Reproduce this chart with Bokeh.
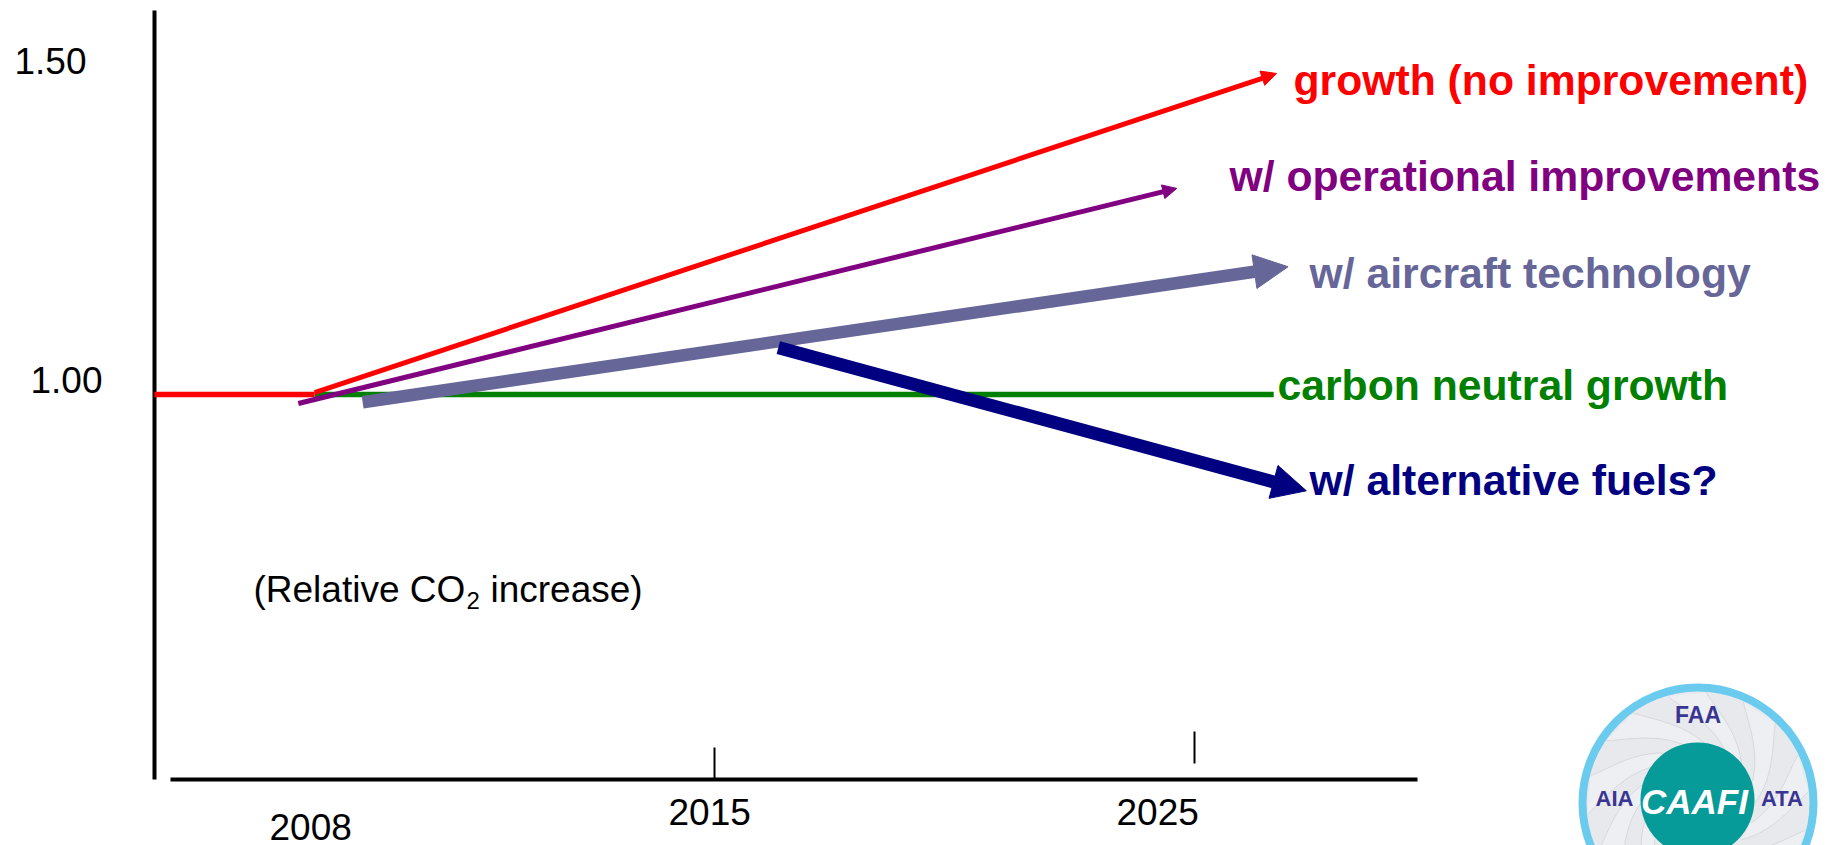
import math
from bokeh.plotting import figure
from bokeh.models import Arrow, NormalHead, Range1d
from bokeh.core.properties import value
from bokeh.embed import file_html
from bokeh.resources import INLINE

W, H = 1839, 845
PX_PER_YEAR, PX_PER_UNIT = 48.0, 642.0


def X(px):
    return 2015 + (px - 714) / PX_PER_YEAR


def Y(py):
    return 1 + (394 - py) / PX_PER_UNIT


# Series: (year, relative CO2)
flat_years = [2003.33, 2006.67]
flat_values = [1.0, 1.0]
neutral_years = [2006.67, 2026.65]
neutral_values = [1.0, 1.0]
growth_years = [2006.67, 2026.71]
growth_values = [1.003, 1.500]
operational_years = [2006.33, 2024.63]
operational_values = [0.986, 1.321]
aircraft_years = [2007.67, 2026.95]
aircraft_values = [0.988, 1.199]
fuels_years = [2016.33, 2027.33]
fuels_values = [1.073, 0.850]

series_labels = ["growth (no improvement)", "w/ operational improvements", "w/ aircraft technology",
                 "carbon neutral growth", "w/ alternative fuels?"]
series_colors = ["#ff0000", "#800080", "#666699", "#008000", "#000080"]
y_tick_labels = ["1.50", "1.00"]
x_tick_labels = ["2008", "2015", "2025"]

FONT = "Liberation Sans"

p = figure(width=W, height=H, output_backend="svg", toolbar_location=None,
           x_axis_location=None, y_axis_location=None, min_border=0,
           x_range=Range1d(X(0), X(W)), y_range=Range1d(Y(H), Y(0)),
           outline_line_color=None, background_fill_color="white", border_fill_color="white")
p.grid.visible = False


def txt(px, py, s, size, color="#000000", style="normal", font=FONT, align="left"):
    p.text([X(px)], [Y(py - 0.36 * size)], text=[s], text_font=value(font), text_font_size=f"{size}px",
           text_color=color, text_font_style=style, text_baseline="alphabetic", text_align=align)


# Axes
p.segment([X(154)], [Y(10)], [X(154)], [Y(779)], line_color="black", line_width=4)
p.segment([X(170)], [Y(779)], [X(1417)], [Y(779)], line_color="black", line_width=4)
p.segment([2015], [Y(747)], [2015], [Y(778)], line_color="black", line_width=2)
p.segment([2025], [Y(731)], [2025], [Y(763)], line_color="black", line_width=2)

# Tick labels
txt(14, 74, y_tick_labels[0], 37)
txt(30, 393, y_tick_labels[1], 37)
txt(269, 840, x_tick_labels[0], 37)
txt(668, 825, x_tick_labels[1], 37)
txt(1116, 825, x_tick_labels[2], 37)

# Annotation with subscript
txt(253, 602, "(Relative CO", 37)
txt(466, 609, "2", 24)
txt(490, 602, "increase)", 37)

# Lines
p.line(neutral_years, neutral_values, line_color=series_colors[3], line_width=5.5)
p.line(flat_years, flat_values, line_color="#ff0000", line_width=5.5)


def arrow(xs, ys, color, width, head):
    p.add_layout(Arrow(end=NormalHead(size=head, fill_color=color, line_color=color, line_width=1),
                       x_start=xs[0], y_start=ys[0], x_end=xs[1], y_end=ys[1],
                       line_color=color, line_width=width))


arrow(growth_years, growth_values, series_colors[0], 5, 15)
arrow(operational_years, operational_values, series_colors[1], 5, 14)
arrow(aircraft_years, aircraft_values, series_colors[2], 12.5, 34)
arrow(fuels_years, fuels_values, series_colors[4], 13, 34)

# Series labels
txt(1293, 94.5, series_labels[0], 42.7, series_colors[0], "bold")
txt(1229, 190.5, series_labels[1], 42.7, series_colors[1], "bold")
txt(1309, 287.5, series_labels[2], 42.7, series_colors[2], "bold")
txt(1277, 399.5, series_labels[3], 42.7, series_colors[3], "bold")
txt(1309, 494.5, series_labels[4], 42.7, series_colors[4], "bold")

# Logo (decoration)
cx, cy = 1697.5, 802.5
p.scatter([X(cx)], [Y(cy)], size=231, marker="circle", fill_color="#e8e9ec",
          line_color="#6bcbef", line_width=8)


def blade(a0, n=14):
    pts = []
    for i in range(n + 1):
        t = i / n
        r = 57 + 54 * t
        th = a0 + 1.25 * t - 0.45 * t * t
        pts.append((cx + r * math.cos(th), cy - r * math.sin(th)))
    return pts


N = 18
blades = [blade(2 * math.pi * k / N) for k in range(N + 1)]
for k in range(0, N, 2):
    poly = blades[k] + blades[k + 1][::-1]
    p.patch([X(a) for a, _ in poly], [Y(b) for _, b in poly], fill_color="#eeeff2", line_color=None)
for b in blades[:-1]:
    p.line([X(a) for a, _ in b], [Y(c) for _, c in b], line_color="#cfd0d3", line_width=0.7)

p.scatter([X(cx - 0.5)], [Y(799)], size=114, marker="circle", fill_color="#069a98", line_color=None)
txt(1694, 814, "CAAFI", 35, "#ffffff", "bold italic", FONT, "center")
txt(1697.5, 723, "FAA", 23, "#3a3592", "bold", FONT, "center")
txt(1614, 806, "AIA", 22, "#3a3592", "bold", FONT, "center")
txt(1781.5, 806, "ATA", 22, "#3a3592", "bold", FONT, "center")

open("out.html", "w").write(file_html(p, INLINE))
